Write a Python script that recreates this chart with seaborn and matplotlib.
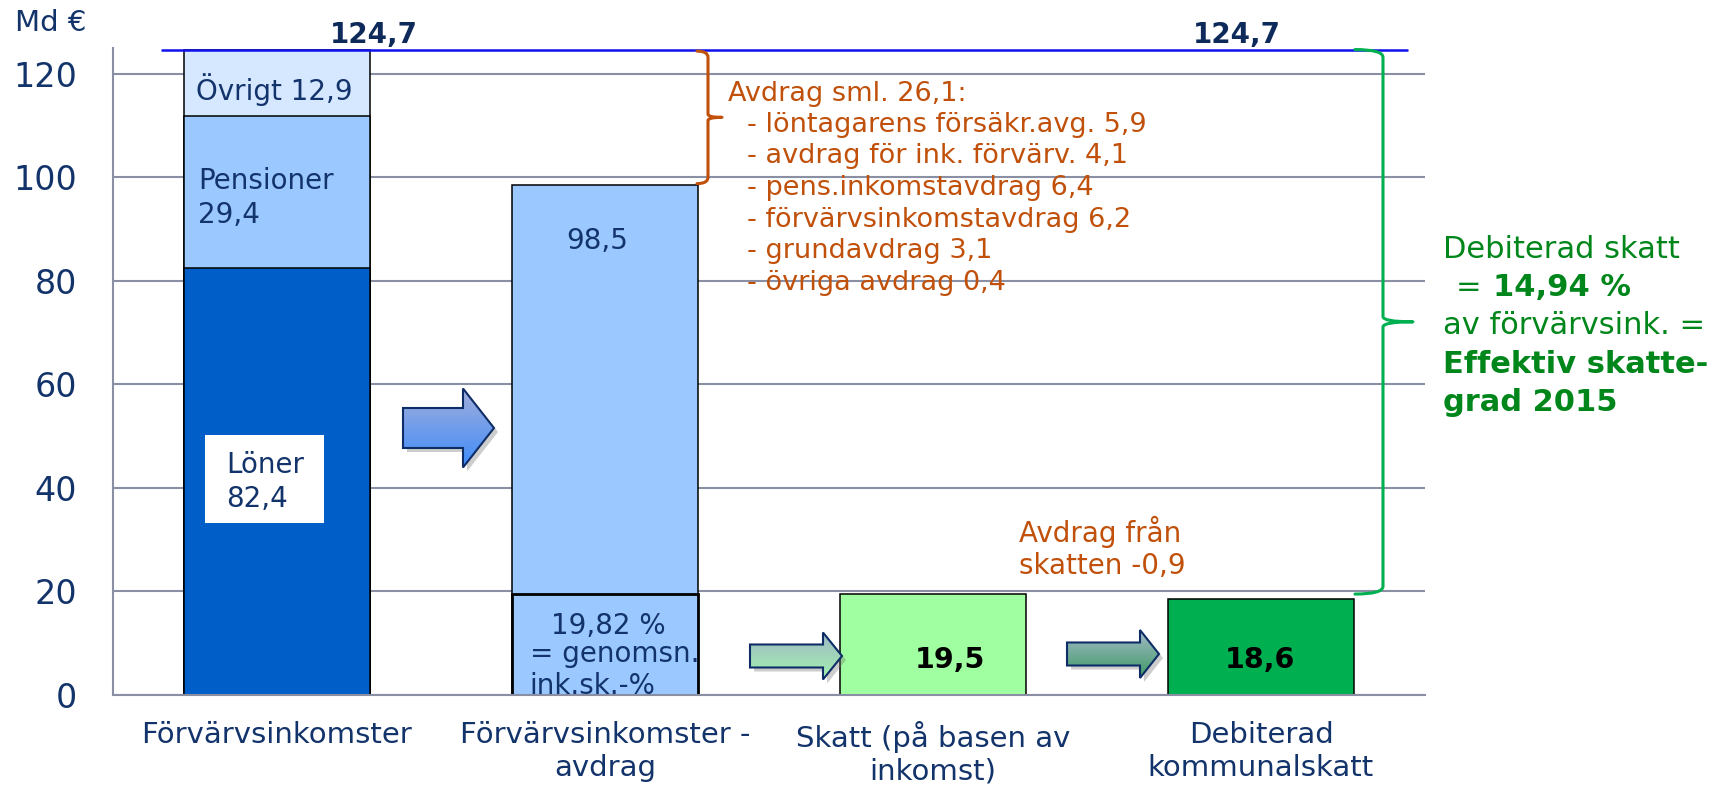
import numpy as np
import pandas as pd
import matplotlib
matplotlib.use("Agg")
import matplotlib.pyplot as plt
import seaborn as sns
from matplotlib.path import Path
from matplotlib.patches import PathPatch, Polygon, Rectangle
from matplotlib.colors import LinearSegmentedColormap
from matplotlib.ticker import MultipleLocator, FixedLocator
import matplotlib.transforms as mtransforms

# ---------------- data ----------------
categories = ["Förvärvsinkomster", "Förvärvsinkomster -\navdrag",
              "Skatt (på basen av\ninkomst)", "Debiterad\nkommunalskatt"]
income_part_names = ["Löner", "Pensioner", "Övrigt"]
income_parts = [82.4, 29.4, 12.9]
after_deductions = 98.5
avg_rate = 19.82
tax_before = 19.5
tax_debited = 18.6
tax_credit = -0.9
deductions_total = 26.1
deduction_names = ["löntagarens försäkr.avg.", "avdrag för ink. förvärv.",
                   "pens.inkomstavdrag", "förvärvsinkomstavdrag",
                   "grundavdrag", "övriga avdrag"]
deduction_values = [5.9, 4.1, 6.4, 6.2, 3.1, 0.4]
effective_rate = 14.94
year = 2015
yticks = [0, 20, 40, 60, 80, 100, 120]


def fmt(v, d=1):
    return f"{v:.{d}f}".replace(".", ",")


total = round(sum(income_parts), 1)
bar_totals = [total, after_deductions, tax_before, tax_debited]

# ---------------- style ----------------
sns.set_style("white")
plt.rcParams["font.family"] = ["DejaVu Sans"]

NAVY = "#13336B"
NAVY_D = "#0E2A5A"
ORANGE = "#C0500A"
GREEN_T = "#00861A"
GREEN_B = "#00B050"
GRID = "#8B8FA3"
C_LONER = "#005EC8"
C_PENS = "#9AC8FF"
C_OVR = "#D5E8FF"
C_TAX = "#A0FFA0"
BAR_W = 0.567

W, H, DPI = 1731, 786, 100
fig = plt.figure(figsize=(W / DPI, H / DPI), dpi=DPI)
AX_L, AX_R, AX_B, AX_T = 113, 1425, 695, 48
ax = fig.add_axes([AX_L / W, (H - AX_B) / H, (AX_R - AX_L) / W, (AX_B - AX_T) / H])
PX = mtransforms.Affine2D().scale(1 / DPI, -1 / DPI).translate(0, H / DPI) + fig.dpi_scale_trans

YMAX = 125
CAT_W = (AX_R - AX_L) / 4
Y_SC = (AX_B - AX_T) / YMAX


def pxd(xp, yp):
    return (xp - AX_L) / CAT_W - 0.5, (AX_B - yp) / Y_SC


# ---------------- bars ----------------
main_colors = [C_OVR, C_PENS, C_TAX, GREEN_B]
df_main = pd.DataFrame({"cat": categories, "val": bar_totals})
sns.barplot(data=df_main, x="cat", y="val", hue="cat", order=categories,
            hue_order=categories, palette=main_colors, legend=False,
            width=BAR_W, saturation=1, edgecolor="black", linewidth=1.1,
            errorbar=None, ax=ax, zorder=2)
# stacked layers of the first bar (cumulative, drawn over each other)
cum_pens = income_parts[0] + income_parts[1]
sns.barplot(x=[categories[0]], y=[cum_pens], order=categories, color=C_PENS,
            width=BAR_W, saturation=1, edgecolor="black", linewidth=1.1,
            errorbar=None, ax=ax, zorder=2)
sns.barplot(x=[categories[0]], y=[income_parts[0]], order=categories, color=C_LONER,
            width=BAR_W, saturation=1, edgecolor="black", linewidth=1.1,
            errorbar=None, ax=ax, zorder=2)
# tax share box inside bar 2
tax_share = after_deductions * avg_rate / 100
sns.barplot(x=[categories[1]], y=[tax_share], order=categories, color=C_PENS,
            width=BAR_W, saturation=1, edgecolor="black", linewidth=2.0,
            errorbar=None, ax=ax, zorder=2)

# ---------------- axes styling ----------------
ax.set_xlim(-0.5, 3.5)
ax.set_ylim(0, YMAX)
ax.set_xlabel("")
ax.set_ylabel("")
ax.set_axisbelow(True)
ax.yaxis.set_major_locator(FixedLocator(yticks))
ax.yaxis.set_minor_locator(MultipleLocator(5))
ax.grid(axis="y", which="major", color=GRID, linewidth=1.5)
ax.grid(axis="x", visible=False)
for s in ["top", "right"]:
    ax.spines[s].set_visible(False)
for s in ["left", "bottom"]:
    ax.spines[s].set_color(GRID)
    ax.spines[s].set_linewidth(1.5)
ax.tick_params(axis="y", which="major", direction="inout", length=16, width=1.5,
               color=GRID, labelsize=24, labelcolor=NAVY, pad=18)
ax.tick_params(axis="y", which="minor", direction="in", length=7, width=1.5, color=GRID)
ax.set_xticks(range(len(categories)))
ax.set_xticklabels(categories)
ax.xaxis.set_minor_locator(FixedLocator(np.arange(-0.5, 3.6, 1.0)))
ax.tick_params(axis="x", which="major", length=0, labelsize=21, labelcolor=NAVY, pad=19)
ax.tick_params(axis="x", which="minor", direction="out", length=7.5, width=1.5, color=GRID)

# ---------------- total line ----------------
x0, _ = pxd(161, 0)
x1, _ = pxd(1408, 0)
ax.hlines(total, x0, x1, color="#1010EE", linewidth=1.8, zorder=4)

# ---------------- arrows ----------------
def arrow(xs, xb, xt, yc, sh, hh, c_top, c_bot):
    pts = [(xs, yc - sh), (xb, yc - sh), (xb, yc - hh), (xt, yc), (xb, yc + hh),
           (xb, yc + sh), (xs, yc + sh)]
    dpts = [pxd(*p) for p in pts]
    shadow = [pxd(p[0] + 4, p[1] + 4) for p in pts]
    ax.add_patch(Polygon(shadow, closed=True, facecolor="#707070", alpha=0.35,
                         edgecolor="none", zorder=3))
    poly = Polygon(dpts, closed=True, facecolor="none", edgecolor="#0E2D66",
                   linewidth=1.5, zorder=3.2)
    ax.add_patch(poly)
    cmap = LinearSegmentedColormap.from_list("g", [c_top, c_bot])
    grad = np.linspace(0, 1, 256).reshape(-1, 1)
    xa, ya_top = pxd(xs, yc - hh)
    xz, ya_bot = pxd(xt, yc + hh)
    im = ax.imshow(grad, extent=(xa, xz, ya_bot, ya_top), origin="upper",
                   aspect="auto", cmap=cmap, zorder=3.1, interpolation="bilinear")
    im.set_clip_path(poly)


arrow(403, 463, 494, 428, 20, 39.5, "#A3AEDB", "#3F8CFA")
arrow(750, 823, 842, 656, 11.5, 23.5, "#9DB7C5", "#A4F2AE")
arrow(1067, 1140, 1159, 654, 11.5, 24, "#A6BACB", "#3C9A62")

ax.set_xlim(-0.5, 3.5)
ax.set_ylim(0, YMAX)
ax.set_aspect("auto")

# ---------------- braces ----------------
def brace(xh_px, xv_px, xn_px, y_top, y_bot, color, lw, r, nh):
    xh, _ = pxd(xh_px, 0)
    xv, _ = pxd(xv_px, 0)
    xn, _ = pxd(xn_px, 0)
    ym = (y_top + y_bot) / 2
    verts = [(xh, y_top), (xv, y_top), (xv, y_top - r),
             (xv, ym + nh), (xv, ym), (xn, ym),
             (xv, ym), (xv, ym - nh),
             (xv, y_bot + r), (xv, y_bot), (xh, y_bot)]
    codes = [Path.MOVETO, Path.CURVE3, Path.CURVE3,
             Path.LINETO, Path.CURVE3, Path.CURVE3,
             Path.CURVE3, Path.CURVE3,
             Path.LINETO, Path.CURVE3, Path.CURVE3]
    ax.add_patch(PathPatch(Path(verts, codes), facecolor="none", edgecolor=color,
                           linewidth=lw, capstyle="round", joinstyle="round",
                           zorder=4, clip_on=False))


brace(697, 708, 722, total - 0.3, after_deductions + 0.3, ORANGE, 2.2, 1.2, 0.6)
brace(1355, 1383, 1413, total, tax_before, GREEN_B, 2.2, 1.5, 1.0)

# ---------------- texts ----------------
def t(x, y, s, **kw):
    kw.setdefault("va", "baseline")
    kw.setdefault("ha", "left")
    fig.text(x, y, s, transform=PX, **kw)


t(15, 31, "Md €", fontsize=21, color=NAVY)
t(374, 43, fmt(total), fontsize=20, fontweight="bold", color=NAVY_D, ha="center")
t(1237, 43, fmt(total), fontsize=20, fontweight="bold", color=NAVY_D, ha="center")

t(196, 100, f"{income_part_names[2]} {fmt(income_parts[2])}", fontsize=20, color=NAVY)
t(198, 189, income_part_names[1], fontsize=20, color=NAVY)
t(198, 223, fmt(income_parts[1]), fontsize=20, color=NAVY)
fig.patches.append(Rectangle((205, 523), 119, -88, transform=PX, facecolor="white",
                             edgecolor="none", zorder=5))
t(226, 473, income_part_names[0], fontsize=20, color=NAVY, zorder=6)
t(226, 507, fmt(income_parts[0]), fontsize=20, color=NAVY, zorder=6)

t(597, 249, fmt(after_deductions), fontsize=20, color=NAVY, ha="center")
t(608, 634, f"{fmt(avg_rate, 2)} %", fontsize=20, color=NAVY, ha="center")
t(530, 662, "= genomsn.", fontsize=20, color=NAVY)
t(529, 694, "ink.sk.-%", fontsize=20, color=NAVY)

t(950, 668, fmt(tax_before), fontsize=20.5, fontweight="bold", color="black", ha="center")
t(1260, 668, fmt(tax_debited), fontsize=20.5, fontweight="bold", color="black", ha="center")

t(1019, 542, "Avdrag från", fontsize=20, color=ORANGE)
t(1019, 574, f"skatten {fmt(tax_credit)}", fontsize=20, color=ORANGE)

t(728, 101, f"Avdrag sml. {fmt(deductions_total)}:", fontsize=19.5, color=ORANGE)
for i, (n, v) in enumerate(zip(deduction_names, deduction_values)):
    t(747, 131.7 + 31.7 * i, f"- {n} {fmt(v)}", fontsize=19.5, color=ORANGE)

t(1443, 258, "Debiterad skatt", fontsize=22, color=GREEN_T)
t(1456, 296, "=", fontsize=22, color=GREEN_T)
t(1493, 296, f"{fmt(effective_rate, 2)} %", fontsize=22, fontweight="bold", color=GREEN_T)
t(1443, 334, "av förvärvsink. =", fontsize=22, color=GREEN_T)
t(1443, 373, "Effektiv skatte-", fontsize=22, fontweight="bold", color=GREEN_T)
t(1443, 411, f"grad {year}", fontsize=22, fontweight="bold", color=GREEN_T)

fig.savefig("out.png", dpi=DPI)
